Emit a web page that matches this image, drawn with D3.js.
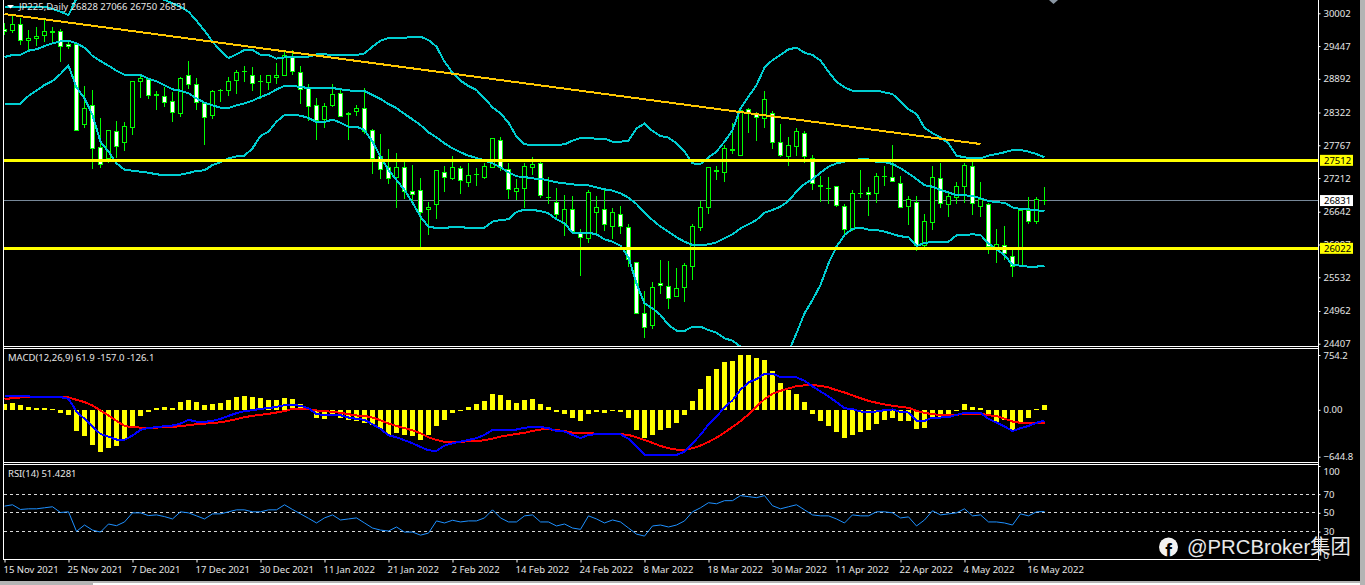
<!DOCTYPE html>
<html>
<head>
<meta charset="utf-8">
<script src="https://d3js.org/d3.v7.min.js"></script>
<style>
html, body { margin: 0; padding: 0; background: #000; overflow: hidden; }
svg { display: block; }
text { font-family: "Noto Sans", sans-serif; font-size: 9.5px; fill: #e6e6e6; }
.axis text { fill: #e6e6e6; font-size: 9.5px; font-family: "Noto Sans", sans-serif; }
.axis line { stroke: #fff; }
.axis path { display: none; }
</style>
</head>
<body>
<svg width="1365" height="585"></svg>
<script>
// JP225 daily
var tickDates = ["15 Nov 2021","25 Nov 2021","7 Dec 2021","17 Dec 2021","30 Dec 2021","11 Jan 2022","21 Jan 2022","2 Feb 2022","14 Feb 2022","24 Feb 2022","8 Mar 2022","18 Mar 2022","30 Mar 2022","11 Apr 2022","22 Apr 2022","4 May 2022","16 May 2022"];
var priceTicks = [30002,29447,28892,28322,27767,27212,26642,26087,25532,24962,24407];
var macdTicks = [754.2,0,-644.8];
var rsiTicks = [100,70,50,30,0];
var rsiLevels = [70,50,30];
var supportLevels = [27512,26022];
var lastClose = 26831;
var trendPrices = [29990,27788];
var trendBars = [0,122];

var open = [
29730,29708,29815,29544,29572,29629,29680,29696,29476,29476,
28122,28443,27732,27540,28003,27811,28071,28850,28884,28604,
28596,28511,28308,28951,28799,28477,28274,28690,28697,28867,
29008,28951,28840,28833,28918,28951,29256,28997,28731,28443,
28206,28443,28647,28295,28342,28393,28020,27580,27394,27224,
27394,26987,27004,26683,26767,27309,27207,27377,27140,27264,
27224,27394,27851,27360,26987,27038,27394,27461,26880,26801,
26446,26683,26276,26192,26632,26683,26395,26598,26378,25785,
24922,24713,25430,25379,25209,25362,25717,26378,26716,27331,
27309,27687,27597,28370,28280,28223,28302,27811,27580,27749,
27964,27546,27072,27032,27066,26733,26344,26947,26970,26953,
27230,27224,27123,26733,26801,26067,26462,27207,26767,26886,
27072,27411,26733,26767,26022,26067,25887,25729,26666,26479,
26828];
var high = [
29832,29956,29917,29719,29764,29888,29764,29730,29550,29493,
28771,28703,28223,28020,28173,28161,28850,28957,28901,28681,
28748,28664,28918,29189,28901,28477,28703,28714,28918,29036,
29109,29087,28951,28951,29155,29352,29375,29104,28805,28562,
28477,28805,28714,28325,28443,28731,28037,27952,27704,27631,
27484,27433,27213,26807,27343,27416,27586,27422,27467,27388,
27461,27885,27907,27461,27191,27461,27563,27484,27224,27038,
26920,26903,26344,27004,26903,27016,26699,26733,26434,25785,
25294,25447,25819,25802,25684,25768,26434,26824,27394,27411,
27766,28139,28376,28393,28325,28681,28342,28122,27902,28054,
28003,27597,27247,27224,27072,26767,27004,27343,27061,27292,
27411,27766,27241,26903,26903,26598,27411,27473,26953,27145,
27461,27478,27145,26784,26344,26395,25994,26671,26891,26891,
27066];
var low = [
29634,29663,29465,29380,29448,29521,29493,29183,29397,28015,
28054,27371,27388,27473,27557,27676,27941,28573,28556,28370,
28421,28167,28240,28714,28370,27778,28218,28494,28607,28641,
28844,28692,28545,28697,28805,28935,28963,28466,28173,27862,
28065,28410,28240,27862,28263,27952,27286,27202,27117,26711,
26857,26784,26022,26248,26519,26982,27174,26942,27061,27083,
27196,27394,27337,26857,26841,26705,27264,26874,26779,26541,
26237,26293,25559,26113,26276,26316,26180,26265,25706,24922,
24510,24656,25249,24995,25209,25119,25486,26316,26609,27179,
27151,27619,27597,27975,27840,28054,27710,27563,27422,27591,
27473,27010,26812,26779,26728,26259,26321,26880,26575,26795,
27083,27151,26711,26417,25977,26050,26333,26705,26553,26779,
26790,26587,26547,25926,25774,25825,25537,25712,26434,26434,
26750];
var close = [
29696,29815,29544,29578,29612,29696,29696,29442,29442,28020,
28393,27715,27445,28020,27749,28088,28850,28901,28613,28621,
28494,28325,28901,28799,28494,28240,28681,28697,28850,29002,
29014,28816,28844,28951,28951,29290,29019,28714,28427,28190,
28427,28630,28257,28302,28393,28003,27546,27360,27207,27394,
26987,26937,26632,26716,27343,27224,27394,27174,27258,27270,
27411,27885,27394,27021,27038,27411,27445,26920,26886,26598,
26683,26310,26208,26970,26716,26429,26632,26395,25836,24922,
24685,25362,25396,25176,25345,25734,26395,26716,27394,27337,
27715,27693,28359,28308,28240,28545,27817,27597,27766,28003,
27580,27112,27078,27038,26750,26344,26953,26953,26937,27241,
27236,27157,26716,26852,26067,26479,27224,26784,26903,27072,
27428,26784,26852,26050,26090,25926,25717,26671,26479,26852,
26831];

// bollinger bands (upper and lower run out of the panel in places)
var bandUpper = [
30114,30114,30114,30114,30114,30114,30075,30029,29973,30255,
30453,30735,30904,30961,30961,30904,30791,30622,30453,30312,
30227,30171,30114,30029,29877,29708,29522,29369,29245,29307,
29380,29380,29301,29296,29234,29256,29268,29268,29268,29307,
29307,29296,29296,29296,29296,29324,29437,29538,29584,29584,
29584,29606,29606,29550,29437,29183,28997,28861,28771,28703,
28562,28410,28308,28150,27913,27783,27772,27772,27772,27772,
27783,27845,27890,27890,27879,27879,27828,27828,27845,28054,
28133,28009,27924,27896,27800,27659,27461,27450,27563,27659,
27828,28026,28393,28590,28788,29081,29211,29296,29392,29420,
29335,29296,29200,29014,28844,28748,28692,28692,28692,28692,
28664,28635,28506,28376,28297,28065,27969,27902,27800,27591,
27563,27546,27546,27591,27619,27648,27687,27687,27659,27619,
27563];
var bandMiddle = [
29262,29296,29301,29369,29392,29448,29493,29527,29538,29493,
29420,29279,29194,29115,29030,28963,28963,28957,28895,28850,
28782,28714,28692,28647,28562,28489,28443,28404,28398,28443,
28477,28522,28585,28635,28714,28771,28771,28754,28737,28737,
28737,28737,28714,28697,28686,28686,28618,28551,28466,28398,
28297,28206,28110,27986,27902,27800,27715,27648,27591,27552,
27512,27461,27394,27309,27241,27230,27207,27196,27174,27140,
27123,27106,27089,27089,27055,27021,26999,26953,26880,26773,
26626,26502,26389,26304,26208,26135,26079,26073,26090,26124,
26191,26259,26361,26429,26502,26626,26671,26728,26824,26982,
27112,27191,27303,27405,27461,27490,27518,27529,27529,27484,
27484,27450,27377,27292,27196,27089,27066,27010,26970,26920,
26920,26908,26869,26824,26801,26795,26716,26688,26683,26666,
26654];
var bandLower = [
28472,28472,28472,28602,28692,28788,28856,28974,29115,28748,
28562,28280,27828,27659,27461,27354,27337,27320,27303,27275,
27264,27264,27270,27298,27332,27343,27433,27478,27546,27580,
27591,27715,27924,27998,28167,28280,28280,28269,28229,28161,
28161,28201,28150,28082,28082,28026,27828,27574,27349,27179,
27010,26795,26558,26389,26366,26366,26383,26383,26366,26366,
26372,26474,26502,26513,26637,26677,26671,26654,26615,26513,
26445,26287,26287,26287,26259,26175,26135,26067,25870,25430,
25091,25006,24893,24724,24628,24622,24696,24696,24639,24594,
24498,24459,24357,24244,24160,24075,24019,24103,24273,24583,
24922,25147,25401,25768,26050,26248,26350,26372,26338,26333,
26304,26265,26225,26214,26062,26113,26129,26129,26135,26242,
26248,26259,26248,26107,26005,25909,25740,25729,25712,25712,
25729];

var macdHist = [
83,97,69,41,28,28,14,-41,-69,-290,
-359,-483,-580,-524,-497,-414,-221,-83,-28,23,
41,28,110,138,110,60,83,97,138,170,
193,170,156,138,138,166,152,83,23,-110,
-124,-83,-110,-138,-152,-179,-207,-262,-345,-317,
-345,-359,-414,-345,-221,-138,-41,-9,41,83,
124,221,207,138,97,138,152,83,41,-28,
-55,-110,-152,-55,-28,-41,-9,-28,-110,-276,
-386,-345,-276,-248,-179,-69,124,290,469,566,
662,676,754,754,718,690,538,373,276,221,
110,-55,-152,-221,-304,-386,-345,-304,-276,-193,
-138,-110,-152,-152,-262,-248,-110,-97,-69,-9,
83,41,28,-69,-166,-138,-290,-166,-110,14,
62];
var macdMain = [
193,193,193,184,179,179,179,175,152,-23,
-124,-230,-331,-368,-409,-414,-354,-276,-248,-239,
-225,-216,-189,-138,-161,-166,-152,-124,-83,-46,
-18,-5,14,23,41,64,69,55,23,-60,
-69,-69,-74,-106,-124,-138,-198,-262,-350,-377,
-419,-460,-511,-557,-566,-492,-460,-437,-414,-391,
-345,-276,-271,-271,-271,-248,-230,-235,-253,-290,
-299,-345,-391,-345,-336,-336,-336,-336,-400,-506,
-616,-616,-621,-626,-621,-575,-460,-345,-198,-92,
32,133,276,377,423,497,497,451,446,446,
400,322,253,184,106,23,9,-23,-32,-23,
-5,5,-28,-37,-147,-152,-106,-106,-101,-69,
-41,-41,-41,-124,-175,-230,-290,-253,-221,-179,
-147];
var macdSignal = [
147,161,170,175,179,179,179,179,170,138,
106,60,-9,-78,-152,-221,-239,-244,-244,-244,
-239,-235,-225,-212,-198,-189,-184,-170,-152,-129,
-101,-83,-69,-55,-37,-18,14,18,9,-9,
-18,-28,-41,-60,-78,-83,-106,-143,-189,-221,
-253,-281,-322,-377,-414,-442,-437,-442,-432,-428,
-419,-396,-368,-350,-331,-317,-290,-271,-267,-281,
-290,-313,-317,-322,-327,-331,-331,-336,-345,-377,
-414,-455,-497,-529,-547,-552,-529,-492,-442,-382,
-313,-235,-156,-64,46,147,221,262,294,327,
336,340,331,308,271,239,198,161,124,97,
74,55,41,28,-14,-41,-60,-69,-69,-69,
-51,-51,-51,-74,-87,-120,-161,-179,-179,-175,
-175];
var rsi = [
57.2,58.6,53.6,54.3,54.3,55.4,56.5,50.4,51.1,30.2,
37.0,31.6,29.5,38.1,36.3,40.3,50,50,47.1,47.8,
46.0,43.5,51.1,50,46.8,43.5,48.9,48.9,51.1,53.2,
53.2,51.1,51.1,53.2,53.2,58.6,53.6,48.9,44.2,39.2,
44.6,47.8,42.4,43.5,44.6,39.2,33.8,31.6,30.6,34.9,
29.5,29.5,26.2,28.4,41.4,39.2,42.1,40.3,41.4,41.4,
44.6,53.2,44.6,40.3,40.3,46.8,47.8,40.3,40.3,36.0,
38.1,33.8,32.4,46.8,43.5,39.2,42.4,40.3,33.8,27.3,
25.2,36.0,37.0,34.9,37.0,41.4,51.1,55.4,60.8,59.7,
63.0,63.0,68.4,67.3,66.2,68.4,57.6,54.3,56.5,58.6,
53.2,47.8,46.8,46.8,43.5,39.2,47.8,46.8,46.8,51.1,
51.1,50,44.6,45.7,36.0,42.4,52.2,47.8,48.9,50,
54.3,46.8,47.8,40.3,40.3,39.2,37.0,48.9,46.8,51.1,
51.4];

var svg = d3.select("svg"),
    left = 3.5,
    right = 1318.5,
    green = "#00ff00",
    cyan = "#00ced1";

var bars = d3.range(open.length);

var x = d3.scaleLinear().domain([0, 130]).range([4.5, 1044.5]);
var y = d3.scaleLinear().domain([24407, 30002]).range([343.7, 13.3]);
var yMacd = d3.scaleLinear().domain([-644.8, 754.2]).range([456.7, 355]);
var yRsi = d3.scaleLinear().domain([0, 100]).range([559.7, 466]);

// clip each indicator to its own pane
var defs = svg.append("defs");
function clip(id, y0, y1) {
    defs.append("clipPath").attr("id", id).append("rect")
        .attr("x", left).attr("y", y0).attr("width", right - left).attr("height", y1 - y0);
}
clip("clipMain", 0, 346);
clip("clipMacd", 349, 462);
clip("clipRsi", 464, 560);

var main = svg.append("g").attr("clip-path", "url(#clipMain)").attr("shape-rendering", "crispEdges");
var macd = svg.append("g").attr("clip-path", "url(#clipMacd)").attr("shape-rendering", "crispEdges");
var rsiPane = svg.append("g").attr("clip-path", "url(#clipRsi)");

// last price line goes under the candles
main.append("line")
    .attr("x1", left).attr("x2", right)
    .attr("y1", y(lastClose)).attr("y2", y(lastClose))
    .attr("stroke", "#778899");

main.selectAll(".wick").data(bars).enter().append("line")
    .attr("class", "wick")
    .attr("x1", function(i) { return x(i); })
    .attr("x2", function(i) { return x(i); })
    .attr("y1", function(i) { return y(high[i]); })
    .attr("y2", function(i) { return y(low[i]); })
    .attr("stroke", green);

main.selectAll(".body").data(bars).enter().append("rect")
    .attr("class", "body")
    .attr("x", function(i) { return x(i) - 2; })
    .attr("width", 4)
    .attr("y", function(i) { return y(Math.max(open[i], close[i])); })
    .attr("height", function(i) { return Math.abs(y(open[i]) - y(close[i])); })
    .attr("fill", function(i) { return close[i] < open[i] ? "#fff" : "#000"; })
    .attr("stroke", green);

var priceLine = d3.line()
    .x(function(d, i) { return x(i); })
    .y(function(d) { return y(d); });

[bandUpper, bandMiddle, bandLower].forEach(function(band) {
    main.append("path")
        .attr("d", priceLine(band))
        .attr("fill", "none")
        .attr("stroke", cyan)
        .attr("stroke-width", 2);
});

main.append("line")
    .attr("x1", x(trendBars[0])).attr("x2", x(trendBars[1]))
    .attr("y1", y(trendPrices[0])).attr("y2", y(trendPrices[1]))
    .attr("stroke", "#ffc800")
    .attr("stroke-width", 2);

main.selectAll(".level").data(supportLevels).enter().append("line")
    .attr("class", "level")
    .attr("x1", left).attr("x2", right)
    .attr("y1", function(d) { return y(d); })
    .attr("y2", function(d) { return y(d); })
    .attr("stroke", "#ffff00")
    .attr("stroke-width", 3);

// macd pane
macd.selectAll(".hist").data(bars).enter().append("rect")
    .attr("class", "hist")
    .attr("x", function(i) { return x(i) - 2.5; })
    .attr("width", 5)
    .attr("y", function(i) { return Math.min(yMacd(macdHist[i]), yMacd(0)); })
    .attr("height", function(i) { return Math.max(1, Math.abs(yMacd(macdHist[i]) - yMacd(0))); })
    .attr("fill", "#ffff00");

var macdLine = d3.line()
    .x(function(d, i) { return x(i); })
    .y(function(d) { return yMacd(d); });

macd.append("path").attr("d", macdLine(macdSignal))
    .attr("fill", "none").attr("stroke", "#ff0000").attr("stroke-width", 2);
macd.append("path").attr("d", macdLine(macdMain))
    .attr("fill", "none").attr("stroke", "#0000ff").attr("stroke-width", 2);

// rsi pane
rsiPane.selectAll(".rsiLevel").data(rsiLevels).enter().append("line")
    .attr("class", "rsiLevel")
    .attr("x1", left).attr("x2", right)
    .attr("y1", function(d) { return yRsi(d); })
    .attr("y2", function(d) { return yRsi(d); })
    .attr("stroke", "#d8d8d8")
    .attr("stroke-dasharray", "3,3")
    .attr("shape-rendering", "crispEdges");

rsiPane.append("path")
    .attr("d", d3.line().x(function(d, i) { return x(i); }).y(function(d) { return yRsi(d); })(rsi))
    .attr("fill", "none")
    .attr("stroke", "#1e90ff");

// pane frames
var frame = svg.append("g").attr("stroke", "#fff").attr("fill", "none").attr("shape-rendering", "crispEdges");
frame.append("line").attr("x1", left).attr("x2", left).attr("y1", 0).attr("y2", 560);
frame.append("line").attr("x1", right).attr("x2", right).attr("y1", 0).attr("y2", 560);
[346.5, 348.5, 462.5, 464.5, 559.5].forEach(function(yy) {
    frame.append("line").attr("x1", left).attr("x2", right).attr("y1", yy).attr("y2", yy);
});

// axes
svg.append("g").attr("class", "axis")
    .attr("transform", "translate(" + right + ",0)")
    .call(d3.axisRight(y).tickValues(priceTicks).tickSize(2).tickPadding(3).tickFormat(d3.format("d")));

svg.append("g").attr("class", "axis")
    .attr("transform", "translate(" + right + ",0)")
    .call(d3.axisRight(yMacd).tickValues(macdTicks).tickSize(2).tickPadding(3)
        .tickFormat(function(d) { return d === 0 ? "0.00" : d3.format(".1f")(d); }));

// top and bottom rsi labels sit inside the pane, away from their ticks
var rsiG = svg.append("g").attr("class", "axis")
    .attr("transform", "translate(" + right + ",0)")
    .call(d3.axisRight(yRsi).tickValues(rsiTicks).tickSize(2).tickPadding(3));
rsiG.selectAll("text").attr("y", function(d) { return d === 100 ? 5 : d === 0 ? -4 : 0; });

var timeAxis = d3.axisBottom(x)
    .tickValues(d3.range(0, 129, 8))
    .tickSize(3)
    .tickPadding(4)
    .tickFormat(function(d) { return tickDates[d / 8]; });

var timeG = svg.append("g").attr("class", "axis")
    .attr("transform", "translate(0,559.5)")
    .call(timeAxis);
timeG.selectAll("text").style("text-anchor", "start").attr("dx", -1.5);

// price tags
function priceTag(value, bg) {
    svg.append("rect").attr("x", 1320).attr("width", 33)
        .attr("y", y(value) - 5.5).attr("height", 11).attr("fill", bg);
    svg.append("text").attr("x", 1324).attr("y", y(value) + 3.5)
        .style("fill", "#000").text(value);
}
supportLevels.forEach(function(d) { priceTag(d, "#ffff00"); });
priceTag(lastClose, "#fff");

// pane titles
svg.append("path").attr("d", "M7,5L14,5L10.5,8.5Z").attr("fill", "#fff");
svg.append("text").attr("x", 19).attr("y", 10).text("JP225,Daily  26828 27066 26750 26831");
svg.append("text").attr("x", 8).attr("y", 361).text("MACD(12,26,9) 61.9 -157.0 -126.1");
svg.append("text").attr("x", 8).attr("y", 477).text("RSI(14) 51.4281");

// small marker at the top edge
svg.append("path").attr("d", "M1049,0L1058,0L1053.5,4Z").attr("fill", "#8a96a3");

// window edges
svg.append("rect").attr("x", 1360).attr("y", 0).attr("width", 5).attr("height", 585).attr("fill", "#b4b4b4");
svg.append("rect").attr("x", 0).attr("y", 581).attr("width", 1365).attr("height", 4).attr("fill", "#b4b4b4");
svg.append("rect").attr("x", 93).attr("y", 583).attr("width", 1267).attr("height", 2).attr("fill", "#fff");

// watermark
svg.append("circle").attr("cx", 1168.5).attr("cy", 547).attr("r", 9.5).attr("fill", "#f2f2f2");
svg.append("text").attr("x", 1168.5).attr("y", 558).attr("text-anchor", "middle")
    .style("font-family", "Liberation Sans").style("font-weight", "bold").style("font-size", "20px")
    .style("fill", "#000").text("f");
svg.append("text").attr("x", 1187).attr("y", 554)
    .style("font-family", "'Liberation Sans','Noto Sans CJK SC'").style("font-size", "20.3px")
    .style("fill", "#e8e8e8").text("@PRCBroker集团");
</script>
</body>
</html>
